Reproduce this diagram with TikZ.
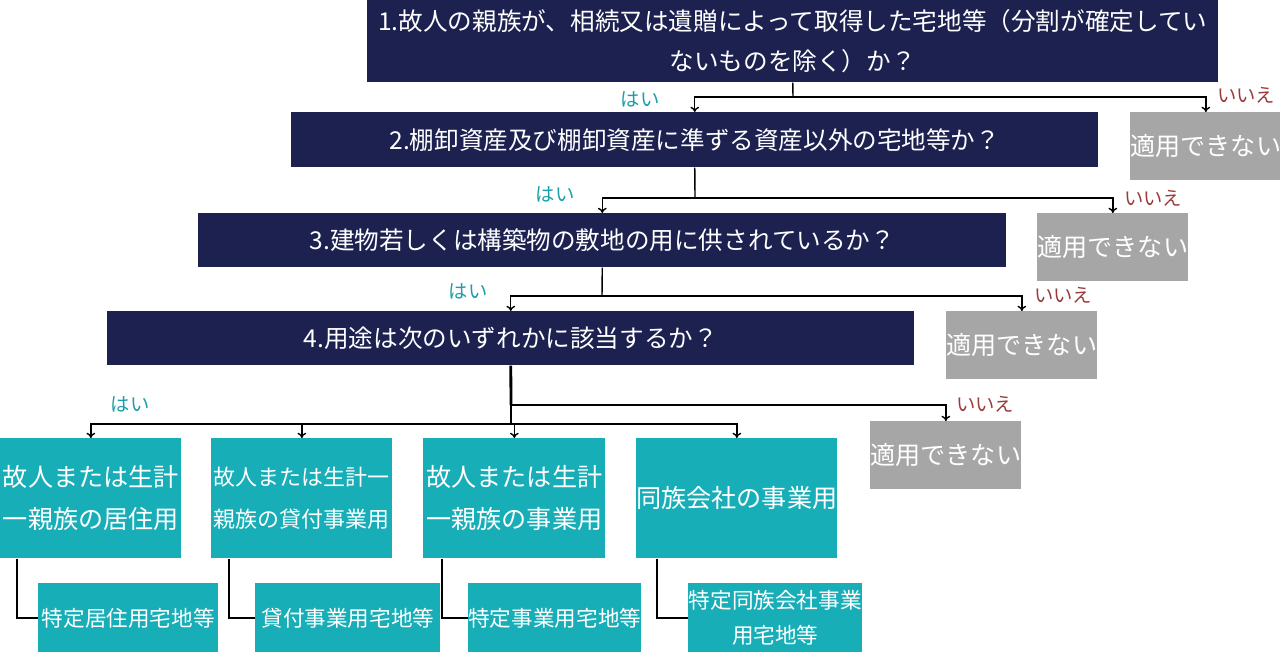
\documentclass[tikz,border=0pt]{standalone}
\usepackage{fontspec}
\setmainfont{Noto Sans CJK JP}
\usetikzlibrary{calc,arrows.meta}
\definecolor{navy}{HTML}{1C2150}
\definecolor{teal2}{HTML}{17AEB8}
\definecolor{ngray}{HTML}{A6A6A6}
\definecolor{yescol}{HTML}{1A9FA8}
\definecolor{nocol}{HTML}{9B3B3B}
\tikzset{
  qbox/.style={fill=navy, text=white, anchor=north west, inner sep=0pt, font=\fontsize{14}{22.7}\selectfont, align=center},
  ngbox/.style={fill=ngray, text=white, anchor=north west, inner sep=0pt, minimum width=3.02cm, minimum height=1.36cm, font=\fontsize{14.3}{16}\selectfont},
  usebox/.style={fill=teal2, text=white, anchor=north west, inner sep=0pt, minimum height=2.4cm, align=center, font=\fontsize{14.3}{24}\selectfont},
  subbox/.style={fill=teal2, text=white, anchor=north west, inner sep=0pt, minimum height=1.38cm, align=center, font=\fontsize{12.3}{20}\selectfont},
  yes/.style={text=yescol, font=\fontsize{11}{12}\selectfont},
  no/.style={text=nocol, font=\fontsize{11}{12}\selectfont},
  conn/.style={line width=0.8pt, -{To[length=3pt,width=5pt]}},
  line/.style={line width=0.8pt}
}
\begin{document}
\begin{tikzpicture}[x=0.02cm, y=-0.02cm]
\useasboundingbox (0,0) rectangle (1280,652);
% questions
\node[qbox, minimum width=17.02cm, minimum height=1.64cm] (q1) at (367,0)
  {1.故人の親族が、相続又は遺贈によって取得した宅地等（分割が確定してい\\ないものを除く）か？};
\node[qbox, minimum width=16.14cm, minimum height=1.1cm] (q2) at (291,112) {2.棚卸資産及び棚卸資産に準ずる資産以外の宅地等か？};
\node[qbox, minimum width=16.16cm, minimum height=1.08cm] (q3) at (198,213) {3.建物若しくは構築物の敷地の用に供されているか？};
\node[qbox, minimum width=16.14cm, minimum height=1.08cm] (q4) at (107,311) {4.用途は次のいずれかに該当するか？};
% not applicable
\node[ngbox] (ng1) at (1130,112) {適用できない};
\node[ngbox] (ng2) at (1037,213) {適用できない};
\node[ngbox] (ng3) at (946,311) {適用できない};
\node[ngbox] (ng4) at (870,421) {適用できない};
% uses
\node[usebox, minimum width=3.62cm] (t1) at (0,438) {故人または生計\\一親族の居住用};
\node[usebox, minimum width=3.62cm, font=\fontsize{12.5}{24}\selectfont] (t2) at (211,438) {故人または生計一\\親族の貸付事業用};
\node[usebox, minimum width=3.64cm] (t3) at (423,438) {故人または生計\\一親族の事業用};
\node[usebox, minimum width=4.02cm] (t4) at (636,438) {同族会社の事業用};
\node[subbox, minimum width=3.6cm] (s1) at (38,583) {特定居住用宅地等};
\node[subbox, minimum width=3.7cm] (s2) at (255,583) {貸付事業用宅地等};
\node[subbox, minimum width=3.44cm] (s3) at (468,583) {特定事業用宅地等};
\node[subbox, minimum width=3.48cm] (s4) at (688,583) {特定同族会社事業\\用宅地等};
% connectors
\coordinate (j1) at (793,97);
\coordinate (j2) at (695,198);
\coordinate (j3) at (602,296);
\coordinate (j4) at (511,405);
\coordinate (j5) at (511,424);
\draw[line] (q1.south) -- (j1);
\draw[conn] (j1) -| (q2.north);
\draw[conn] (j1) -| (ng1.north);
\draw[line] (q2.south) -- (j2);
\draw[conn] (j2) -| (q3.north);
\draw[conn] (j2) -| (ng2.north);
\draw[line] (q3.south) -- (j3);
\draw[conn] (j3) -| (q4.north);
\draw[conn] (j3) -| (ng3.north);
\draw[line width=1.6pt] (q4.south) -- (j4);
\draw[conn] (j4) -| (ng4.north);
\draw[line] (j4) -- (j5);
\draw[conn] (j5) -| (t1.north);
\draw[conn] (j5) -| (t2.north);
\draw[conn] (j5) -| (t3.north);
\draw[conn] (j5) -| (t4.north);
\draw[line] ($(t1.south west)+(17,0)$) |- (s1.west);
\draw[line] ($(t2.south west)+(18,0)$) |- (s2.west);
\draw[line] ($(t3.south west)+(19,0)$) |- (s3.west);
\draw[line] ($(t4.south west)+(21,0)$) |- (s4.west);
% labels
\node[yes] (y1) at (640,99) {はい};
\node[no] (n1) at (1246,95) {いいえ};
\node[yes] (y2) at (555,194) {はい};
\node[no] (n2) at (1153,198) {いいえ};
\node[yes] (y3) at (468,291) {はい};
\node[no] (n3) at (1063,295) {いいえ};
\node[yes] (y4) at (130,404) {はい};
\node[no] (n4) at (985,404) {いいえ};
\end{tikzpicture}
\end{document}
